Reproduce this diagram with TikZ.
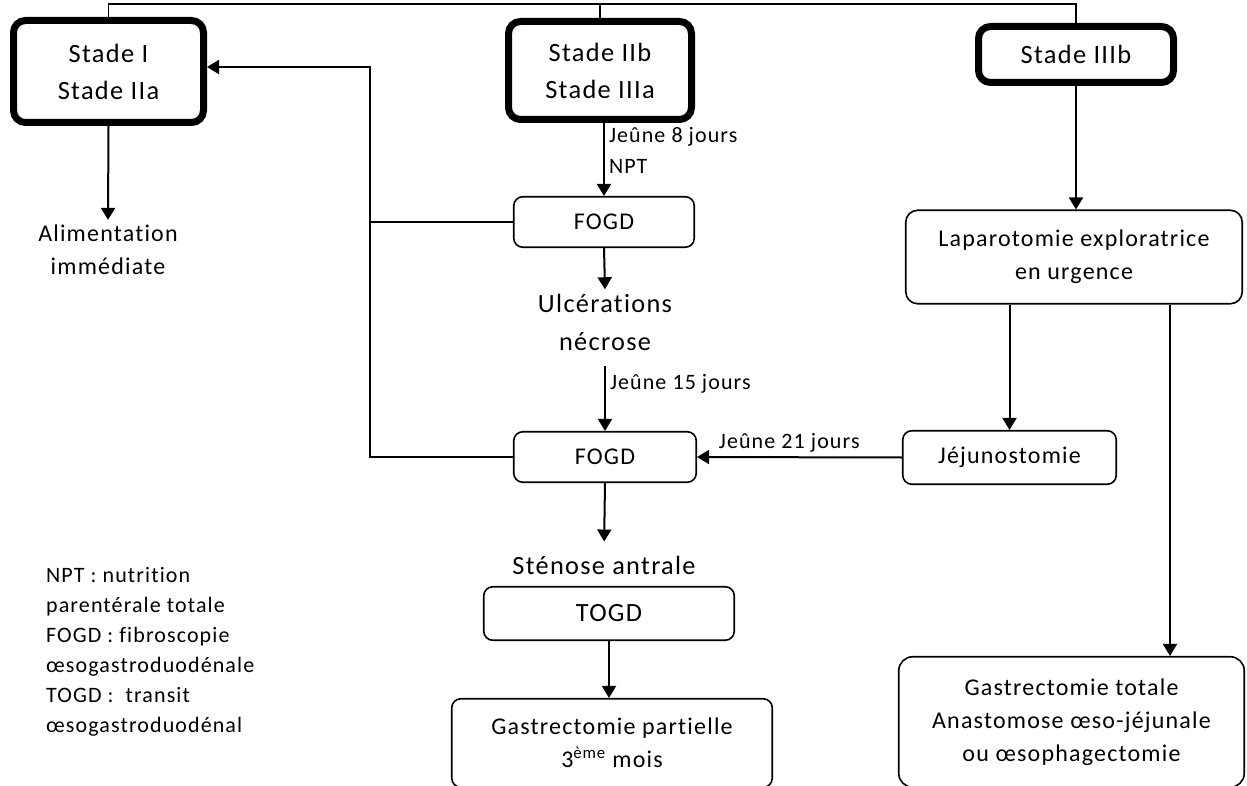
\documentclass[tikz,border=0pt]{standalone}
\usepackage{fontspec}
\setmainfont{Carlito}[LetterSpace=5,Ligatures=NoCommon]
\usetikzlibrary{arrows.meta,positioning,calc}

\begin{document}
\begin{tikzpicture}[x=1pt,y=-1pt,
  stade/.style={draw,line width=7pt,rounded corners=12pt,align=center,
    font=\fontsize{26.4}{37}\selectfont,inner sep=0pt},
  boite/.style={draw,line width=1.6pt,rounded corners=9pt,align=center,
    font=\fontsize{24}{33}\selectfont,inner sep=0pt},
  texte/.style={align=center,font=\fontsize{24}{33}\selectfont,inner sep=5pt},
  grand/.style={font=\fontsize{26.3}{38}\selectfont},
  etiq/.style={font=\fontsize{22}{31}\selectfont,inner sep=4pt,align=left},
  fleche/.style={line width=2pt,-{Triangle[width=14pt,length=12pt]}},
  trait/.style={line width=1.6pt}]
\useasboundingbox (0,0) rectangle (1247,786);

% les trois stades
\node[stade,minimum width=190pt,minimum height=102pt] (s1) at (108.5,71.5) {Stade I\\Stade IIa};
\node[stade,minimum width=183pt,minimum height=98pt] (s2) at (600,70.5) {Stade IIb\\Stade IIIa};
\node[stade,minimum width=195pt,minimum height=56pt] (s3) at (1076,54.5) {Stade IIIb};
\coordinate (bus) at (600,4);
\draw[line width=1.3pt] (s1.north) |- (bus) -| (s3.north);
\draw[line width=1.3pt] (s2.north) -- (s2.north |- bus);

% colonne de gauche
\node[texte] (alim) at (108,250) {Alimentation\\immédiate};
\draw[fleche] (s1.south) -- (alim.north);

% colonne du milieu
\node[boite,minimum width=180.5pt,minimum height=50.5pt] (fogd1) at (604,222) {FOGD};
\node[texte,grand] (ulc) at (605,322.7) {Ulcérations\\nécrose};
\node[boite,minimum width=182.5pt,minimum height=50.5pt] (fogd2) at (605,457) {FOGD};
\node[texte,grand,anchor=base] (sten) at (604,574) {Sténose antrale};
\node[boite,grand,minimum width=250.5pt,minimum height=53.5pt] (togd) at (609,613.5) {TOGD};
\node[boite,minimum width=320.5pt,minimum height=88.5pt] (gp) at (612,743)
  {Gastrectomie partielle\\3\textsuperscript{ème} mois};

\draw[fleche] (s2.south -| fogd1.north) -- node[etiq,right,pos=0.38] {Jeûne 8 jours\\NPT} (fogd1.north);
\draw[fleche] (fogd1.south) -- (ulc.north);
\draw[fleche,shorten <=10pt] (ulc.south) -- node[etiq,right,pos=0.37] {Jeûne 15 jours} (fogd2.north);
\draw[fleche,shorten >=9pt] (fogd2.south) -- (sten.north);
\draw[fleche] (togd.south) -- (togd.south |- gp.north);

% retour vers stade I
\coordinate (retour) at (370,67);
\draw[fleche] (fogd1.west) -| (retour) -- (s1.east |- retour);
\draw[trait] (fogd2.west) -| (retour);

% colonne de droite
\node[boite,rounded corners=12pt,minimum width=336.5pt,minimum height=93.5pt] (lap) at (1074,257)
  {Laparotomie exploratrice\\en urgence};
\node[boite,minimum width=213.5pt,minimum height=53.5pt] (jej) at (1009.5,457.5) {Jéjunostomie};
\node[boite,rounded corners=14pt,minimum width=345.5pt,minimum height=130.5pt] (gt) at (1071.5,722)
  {Gastrectomie totale\\Anastomose œso-jéjunale\\ou œsophagectomie};
\coordinate (cote) at (1170,0);

\draw[fleche] (s3.south) -- (s3.south |- lap.north);
\draw[fleche] (jej.north |- lap.south) -- (jej.north);
\draw[fleche] (lap.south -| cote) -- (gt.north -| cote);
\draw[fleche] (jej.west) -- node[etiq,above,pos=0.55] {Jeûne 21 jours} (fogd2.east);

% legende
\node[etiq,font=\fontsize{22}{30}\selectfont,anchor=north west,inner sep=0pt] (legende) at (46,567)
  {NPT : nutrition\\parentérale totale\\FOGD : fibroscopie\\œsogastroduodénale\\TOGD :\ \ transit\\œsogastroduodénal};
\end{tikzpicture}
\end{document}
